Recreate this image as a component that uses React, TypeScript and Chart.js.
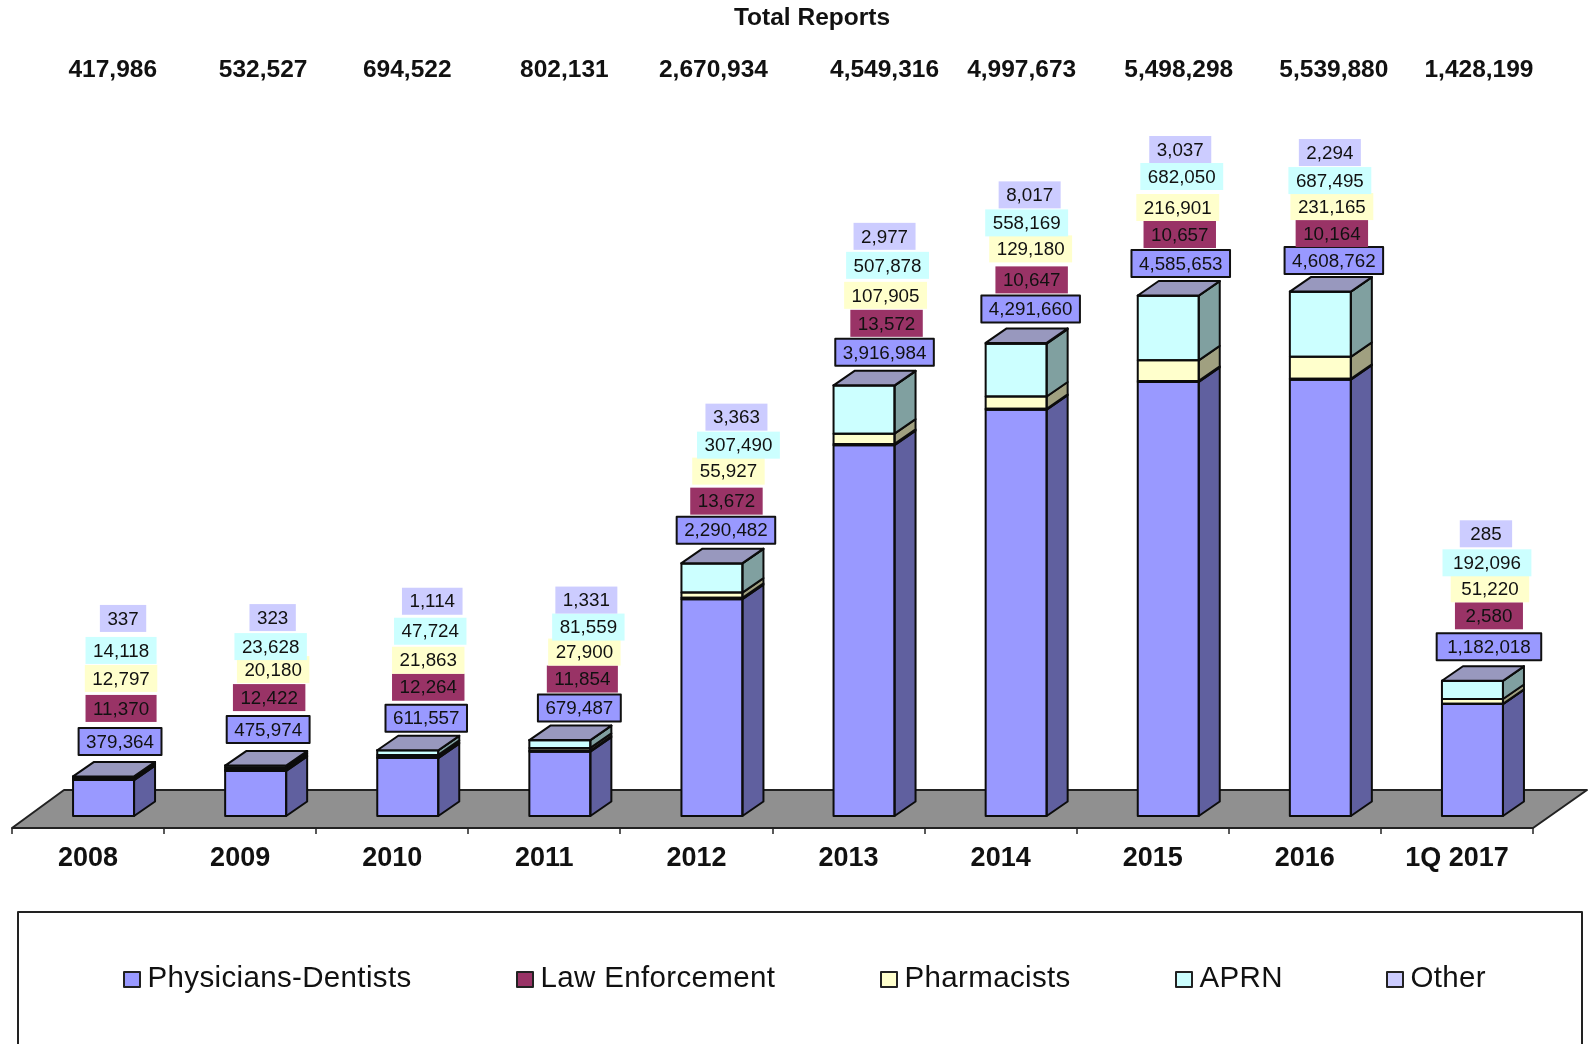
import React, { useEffect, useRef } from "react";
import { Chart, registerables } from "chart.js";

Chart.register(...registerables);

const categories = ["2008", "2009", "2010", "2011", "2012", "2013", "2014", "2015", "2016", "1Q 2017"];
const physiciansDentists = [379364, 475974, 611557, 679487, 2290482, 3916984, 4291660, 4585653, 4608762, 1182018];
const lawEnforcement = [11370, 12422, 12264, 11854, 13672, 13572, 10647, 10657, 10164, 2580];
const pharmacists = [12797, 20180, 21863, 27900, 55927, 107905, 129180, 216901, 231165, 51220];
const aprn = [14118, 23628, 47724, 81559, 307490, 507878, 558169, 682050, 687495, 192096];
const other = [337, 323, 1114, 1331, 3363, 2977, 8017, 3037, 2294, 285];
const totalReports = [417986, 532527, 694522, 802131, 2670934, 4549316, 4997673, 5498298, 5539880, 1428199];

// Hand placement of the data labels: offset from the bar's centre / top, per category, per series.
const labelDx = [
  [17, 18, 18, 18, 20], [13, 14, 18, 15.5, 17.5], [19, 21, 21, 23, 25], [20, 23, 25, 29, 27], [14.5, 15, 17, 27, 25],
  [21, 23, 22, 24, 21], [15, 16, 15, 11, 14], [13, 12, 10, 14, 12.5], [14, 12, 12, 10, 10], [17, 17, 18, 15, 14],
];
const labelDy = [
  [-35, -68, -98, -126, -158], [-36, -68, -96, -119, -148], [-32, -63, -90, -119, -149], [-32, -61, -88, -113, -140], [-33, -62, -92, -118, -146],
  [-33, -62, -90, -120, -149], [-34, -63, -94, -120, -148], [-32, -61, -88, -119, -146], [-31, -58, -85, -111, -139], [-34, -65, -92, -118, -147],
];
const labelPad = [15, 15, 15, 15, 15, 15, 15, 15, 15, 21];
const totalDx = [24.7, 23, 15, 20, 17, 36, 21, 26, 29, 22];
const legendSwatchX = [124, 517, 881, 1176, 1387];

const seriesNames = ["Physicians-Dentists", "Law Enforcement", "Pharmacists", "APRN", "Other"];
const seriesValues = [physiciansDentists, lawEnforcement, pharmacists, aprn, other];
const frontColors = ["#9999FF", "#993366", "#FFFFCC", "#CCFFFF", "#CCCCFF"];
const sideColors = ["#60609F", "#602040", "#A0A080", "#80A0A0", "#8080A0"];
const topColor = "#9898BE";

const FONT = '"Liberation Sans", Arial, sans-serif';
const INK = "#111111";
const BAR_SHIFT = 15.5;
const DEPTH_X = 21;
const DEPTH_Y = 14.5;
const fmt = (n: number) => n.toLocaleString("en-US");

const threeD = {
  id: "threeD",
  beforeDatasetsDraw(chart: any) {
    const { ctx, scales } = chart;
    const x = scales.x;
    const floorFront = scales.y.bottom + 12;
    const floorBack = scales.y.bottom - 26;
    ctx.save();
    ctx.fillStyle = "#909090";
    ctx.strokeStyle = "#222222";
    ctx.lineWidth = 2;
    ctx.lineJoin = "round";
    ctx.beginPath();
    ctx.moveTo(x.left, floorFront);
    ctx.lineTo(x.right, floorFront);
    ctx.lineTo(x.right + 54, floorBack);
    ctx.lineTo(x.left + 52, floorBack);
    ctx.closePath();
    ctx.fill();
    ctx.stroke();
    const step = (x.right - x.left) / categories.length;
    ctx.lineWidth = 1.5;
    for (let i = 0; i <= categories.length; i++) {
      const tx = Math.round(x.left + step * i);
      ctx.beginPath();
      ctx.moveTo(tx, floorFront);
      ctx.lineTo(tx, floorFront + 6);
      ctx.stroke();
    }
    ctx.restore();
    // the library's bars stand a little to the right of the tick centre
    ctx.save();
    ctx.translate(BAR_SHIFT, 0);
  },
  afterDatasetsDraw(chart: any) {
    const { ctx, scales } = chart;
    ctx.restore();
    ctx.save();
    ctx.lineJoin = "round";
    ctx.strokeStyle = "#0c0c0c";
    ctx.lineWidth = 2;
    const metas = seriesNames.map((_, d) => chart.getDatasetMeta(d));
    categories.forEach((_, i) => {
      metas.forEach((meta: any, d: number) => {
        const bar = meta.data[i];
        const l = bar.x - bar.width / 2 + BAR_SHIFT;
        const r = l + bar.width;
        const t = bar.y;
        const b = bar.base;
        ctx.fillStyle = sideColors[d];
        ctx.beginPath();
        ctx.moveTo(r, t);
        ctx.lineTo(r + DEPTH_X, t - DEPTH_Y);
        ctx.lineTo(r + DEPTH_X, b - DEPTH_Y);
        ctx.lineTo(r, b);
        ctx.closePath();
        ctx.fill();
        ctx.stroke();
        ctx.strokeRect(l, t, bar.width, b - t);
      });
      const top = metas[metas.length - 1].data[i];
      const l = top.x - top.width / 2 + BAR_SHIFT;
      const r = l + top.width;
      ctx.fillStyle = topColor;
      ctx.beginPath();
      ctx.moveTo(l, top.y);
      ctx.lineTo(l + DEPTH_X, top.y - DEPTH_Y);
      ctx.lineTo(r + DEPTH_X, top.y - DEPTH_Y);
      ctx.lineTo(r, top.y);
      ctx.closePath();
      ctx.fill();
      ctx.stroke();
    });

    // data labels
    ctx.textAlign = "center";
    ctx.textBaseline = "middle";
    ctx.font = `18.8px ${FONT}`;
    categories.forEach((_, i) => {
      const stackTop = metas[metas.length - 1].data[i];
      const cx = stackTop.x + 15;
      metas.forEach((_m: any, d: number) => {
        const text = fmt(seriesValues[d][i]);
        const lx = cx + labelDx[i][d];
        const ly = stackTop.y + labelDy[i][d];
        const w = ctx.measureText(text).width + labelPad[i];
        const h = 27;
        ctx.fillStyle = frontColors[d];
        ctx.fillRect(lx - w / 2, ly - h / 2, w, h);
        if (d === 0) {
          ctx.lineWidth = 2;
          ctx.strokeStyle = "#111111";
          ctx.strokeRect(lx - w / 2, ly - h / 2, w, h);
        }
        ctx.fillStyle = INK;
        ctx.fillText(text, lx, ly + 1);
      });
    });

    // totals row and its heading
    ctx.fillStyle = INK;
    ctx.font = `bold 24.5px ${FONT}`;
    ctx.fillText("Total Reports", 812, 18);
    totalReports.forEach((v, i) => {
      ctx.fillText(fmt(v), scales.x.getPixelForTick(i) + totalDx[i], 70);
    });

    // legend
    ctx.strokeStyle = "#222222";
    ctx.lineWidth = 2;
    ctx.strokeRect(18, 912, 1564, 160);
    ctx.textAlign = "left";
    ctx.font = `29.5px ${FONT}`;
    (ctx as any).letterSpacing = "0.35px";
    seriesNames.forEach((name, d) => {
      const sx = legendSwatchX[d];
      ctx.fillStyle = frontColors[d];
      ctx.fillRect(sx, 972, 16, 15);
      ctx.strokeStyle = "#222222";
      ctx.lineWidth = 2;
      ctx.strokeRect(sx, 972, 16, 15);
      ctx.fillStyle = INK;
      ctx.fillText(name, sx + 23.5, 979);
    });
    (ctx as any).letterSpacing = "0px";
    ctx.restore();
  },
};

export default function App() {
  const ref = useRef<HTMLCanvasElement>(null);
  useEffect(() => {
    const chart = new Chart(ref.current as HTMLCanvasElement, {
      type: "bar",
      data: {
        labels: categories,
        datasets: seriesNames.map((name, d) => ({
          label: name,
          data: seriesValues[d],
          backgroundColor: frontColors[d],
          borderWidth: 0,
          barThickness: 61,
          clip: false as any,
        })),
      },
      options: {
        responsive: false,
        animation: false,
        devicePixelRatio: 1,
        layout: { padding: { left: 12, right: 55, top: 248, bottom: 0 } },
        plugins: { legend: { display: false }, tooltip: { enabled: false }, title: { display: false } },
        scales: {
          x: {
            stacked: true,
            grid: { display: false, drawTicks: false },
            border: { display: false },
            afterFit: (s: any) => {
              s.height = 228;
            },
            ticks: {
              autoSkip: false,
              maxRotation: 0,
              padding: 26,
              color: INK,
              font: { family: FONT, size: 27, weight: "bold" },
            },
          },
          y: { stacked: true, display: false, min: 0, max: 6000000 },
        },
      } as any,
      plugins: [threeD as any],
    });
    return () => chart.destroy();
  }, []);
  return (
    <canvas
      ref={ref}
      width={1588}
      height={1044}
      style={{ position: "absolute", left: 0, top: 0, width: 1588, height: 1044, display: "block", filter: "blur(0.6px)" }}
    />
  );
}
